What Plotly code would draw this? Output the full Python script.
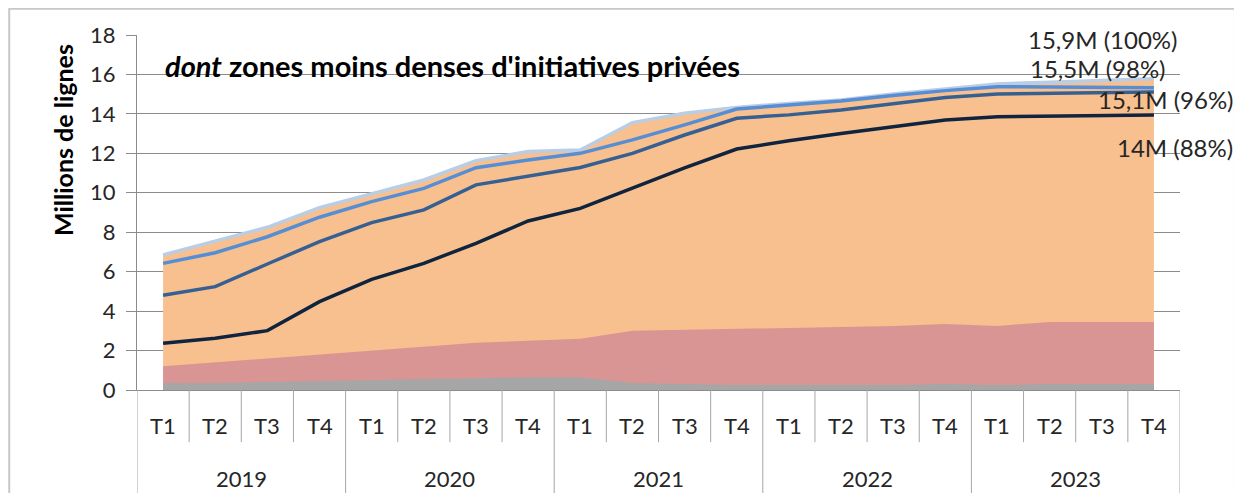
import plotly.graph_objects as go

years = ["2019"] * 4 + ["2020"] * 4 + ["2021"] * 4 + ["2022"] * 4 + ["2023"] * 4
quarters = ["T1", "T2", "T3", "T4"] * 5
year_labels = ["2019", "2020", "2021", "2022", "2023"]

# stacked area tops (millions de lignes)
gray_top = [0.35, 0.35, 0.40, 0.45, 0.50, 0.55, 0.60, 0.65, 0.65, 0.35, 0.30, 0.25,
            0.25, 0.25, 0.25, 0.30, 0.25, 0.30, 0.30, 0.30]
pink_top = [1.20, 1.40, 1.60, 1.80, 2.00, 2.20, 2.40, 2.50, 2.60, 3.00, 3.05, 3.10,
            3.15, 3.20, 3.25, 3.35, 3.25, 3.45, 3.45, 3.45]
total = [6.85, 7.55, 8.25, 9.25, 9.97, 10.65, 11.63, 12.09, 12.17, 13.56, 14.03, 14.33,
         14.53, 14.71, 15.01, 15.25, 15.52, 15.60, 15.68, 15.78]
# lines
line_98 = [6.42, 6.96, 7.77, 8.76, 9.55, 10.22, 11.27, 11.66, 12.00, 12.68, 13.44, 14.25,
           14.45, 14.65, 14.93, 15.18, 15.38, 15.36, 15.35, 15.33]
line_96 = [4.80, 5.24, 6.39, 7.52, 8.49, 9.13, 10.40, 10.85, 11.28, 12.00, 12.93, 13.78,
           13.95, 14.20, 14.53, 14.83, 15.01, 15.04, 15.08, 15.11]
line_88 = [2.37, 2.62, 3.01, 4.48, 5.61, 6.42, 7.44, 8.57, 9.21, 10.24, 11.26, 12.22,
           12.64, 13.01, 13.35, 13.69, 13.86, 13.90, 13.93, 13.95]

end_labels = ["15,9M (100%)", "15,5M (98%)", "15,1M (96%)", "14M (88%)"]

cats = [f"{y} {q}" for y, q in zip(years, quarters)]
n = len(cats)
FONT = "Lato"
TXT = "#262626"
SEP = "#A6A6A6"

fig = go.Figure()
fig.add_trace(go.Scatter(x=cats, y=total, mode="lines", fill="tozeroy",
                         fillcolor="#F9C08F", line=dict(color="#F9C08F", width=0)))
fig.add_trace(go.Scatter(x=cats, y=pink_top, mode="lines", fill="tozeroy",
                         fillcolor="#D99594", line=dict(color="#D99594", width=0)))
fig.add_trace(go.Scatter(x=cats, y=gray_top, mode="lines", fill="tozeroy",
                         fillcolor="#A6A6A6", line=dict(color="#A6A6A6", width=0)))
fig.add_trace(go.Scatter(x=cats, y=total, mode="lines", line=dict(color="#B9CDE5", width=3.5)))
fig.add_trace(go.Scatter(x=cats, y=line_98, mode="lines", line=dict(color="#558ED5", width=3.5)))
fig.add_trace(go.Scatter(x=cats, y=line_96, mode="lines", line=dict(color="#376092", width=3.5)))
fig.add_trace(go.Scatter(x=cats, y=line_88, mode="lines", line=dict(color="#10243E", width=3.5)))

fig.update_layout(
    width=1234, height=485,
    margin=dict(l=129, r=62, t=27, b=103),
    paper_bgcolor="white", plot_bgcolor="white",
    showlegend=False,
    font=dict(family=FONT, color=TXT),
)
fig.update_yaxes(range=[0, 18], dtick=2, showgrid=True, gridcolor="#8C8C8C", gridwidth=1,
                 showline=True, linecolor="#8C8C8C", linewidth=1,
                 ticks="outside", ticklen=10, tickcolor="#8C8C8C", ticklabelstandoff=6,
                 tickfont=dict(size=22, family=FONT, color=TXT), zeroline=False)
fig.update_xaxes(type="category", range=[-0.5, n - 0.5], showgrid=False, showline=True,
                 linecolor="#8C8C8C", showticklabels=False, ticks="")

# quarter labels and separators
for c, q in zip(cats, quarters):
    fig.add_annotation(text=q, xref="x", yref="paper", x=c, y=-0.099, showarrow=False,
                       xanchor="center", yanchor="middle", font=dict(size=22, family=FONT, color=TXT))
for i in range(n + 1):
    is_year = (i % 4 == 0)
    fig.add_shape(type="line", xref="x", yref="paper", x0=i - 0.5, x1=i - 0.5, y0=0,
                  y1=-0.33 if is_year else -0.147, line=dict(color=SEP, width=1))
# year labels
for k, yl in enumerate(year_labels):
    fig.add_annotation(text=yl, xref="x", yref="paper", x=4 * k + 1.5, y=-0.248, showarrow=False,
                       xanchor="center", yanchor="middle", font=dict(size=22, family=FONT, color=TXT))

# y-axis title
fig.add_annotation(text="<b>Millions de lignes</b>", textangle=-90, xref="paper", yref="paper",
                   x=-0.071, y=0.704, showarrow=False, font=dict(size=25, family=FONT, color="black"),
                   xanchor="center", yanchor="middle")
# inner title
fig.add_annotation(text="<b><i>dont</i> zones moins denses d'initiatives privées</b>",
                   xref="paper", yref="paper", x=0.025, y=0.915, xanchor="left", yanchor="middle",
                   showarrow=False, font=dict(size=29, family=FONT, color="black"))
# end labels
label_pos = [(0.926, 0.986), (0.921, 0.907), (0.987, 0.817), (0.995, 0.682)]
for t, (px, py) in zip(end_labels, label_pos):
    fig.add_annotation(text=t, xref="paper", yref="paper", x=px, y=py, xanchor="center",
                       yanchor="middle", showarrow=False,
                       font=dict(size=24, family=FONT, color=TXT))

# outer frame
fig.add_shape(type="rect", xref="paper", yref="paper", x0=-0.1225, x1=1.0527, y0=-0.35, y1=1.074,
              line=dict(color="#C8C8C8", width=2), fillcolor="rgba(0,0,0,0)", layer="below")

fig.write_html("out.html")
